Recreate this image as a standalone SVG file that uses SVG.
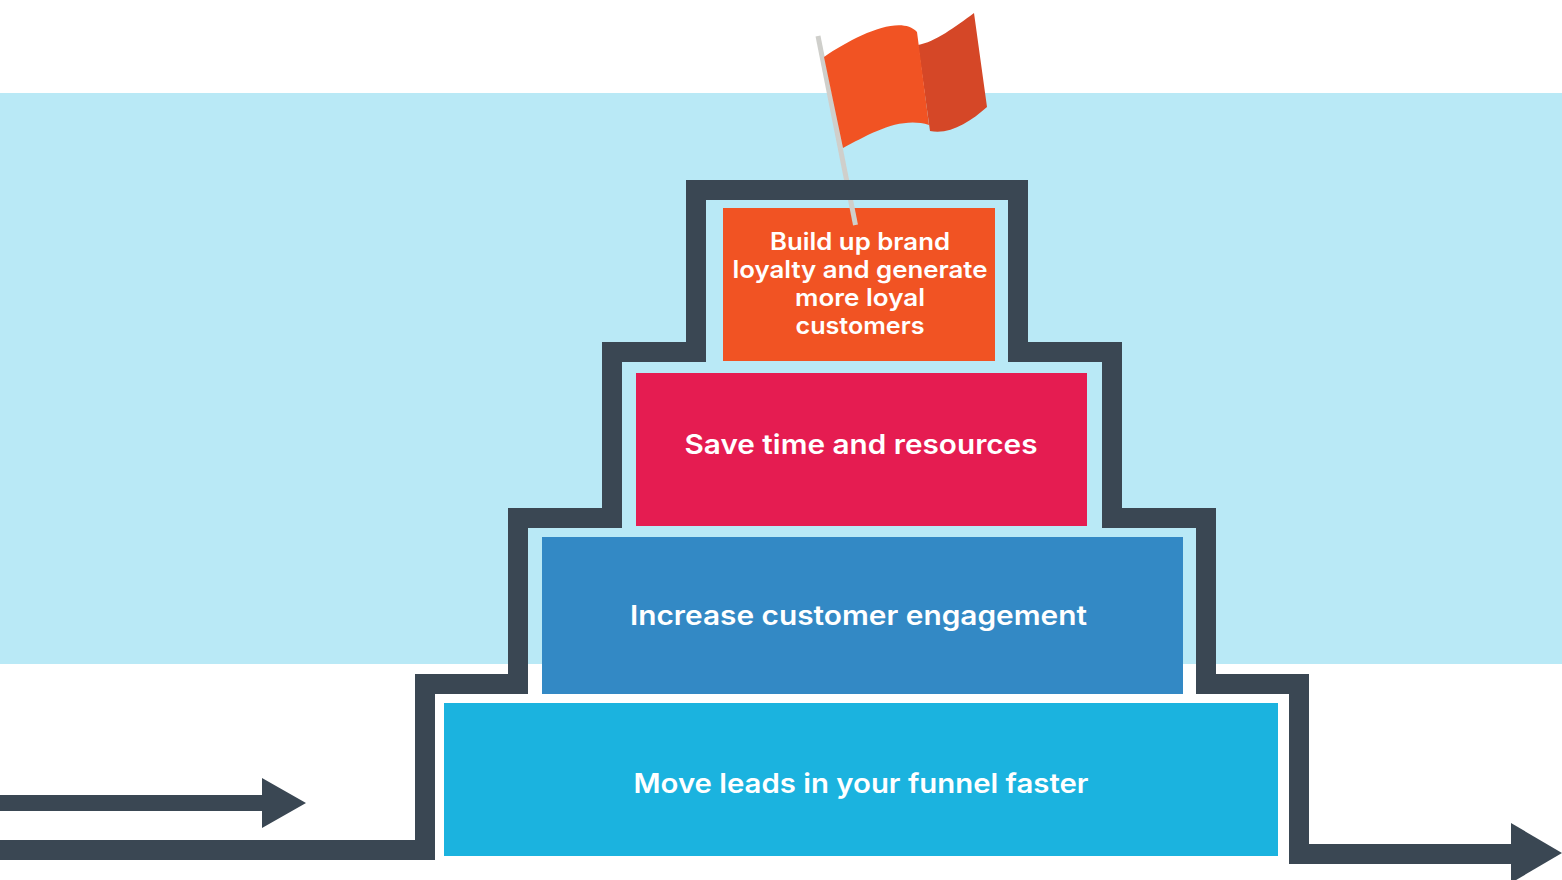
<svg xmlns="http://www.w3.org/2000/svg" width="1562" height="880" viewBox="0 0 1562 880">
<style>
.t{font-family:"Inter","Liberation Sans",sans-serif;font-weight:600;fill:#fff;text-anchor:middle}
.s{font-size:24px}
.b{font-size:27px}
.line{fill:none;stroke:#3a4753;stroke-width:20;stroke-linejoin:miter}
.arrow{fill:#3a4753}
</style>
<rect width="1562" height="880" fill="#fff"/>
<rect id="band" x="0" y="93" width="1562" height="571" fill="#b9e9f6"/>
<g id="step-1"><rect x="444" y="703" width="834" height="153" fill="#1bb3df"/><text class="t b" x="861" y="793" textLength="455" lengthAdjust="spacingAndGlyphs">Move leads in your funnel faster</text></g>
<g id="step-2"><rect x="542" y="537" width="641" height="157" fill="#3389c5"/><text class="t b" x="858.500" y="625" textLength="457" lengthAdjust="spacingAndGlyphs">Increase customer engagement</text></g>
<g id="step-3"><rect x="636" y="373" width="451" height="153" fill="#e51c51"/><text class="t b" x="861" y="454" textLength="353" lengthAdjust="spacingAndGlyphs">Save time and resources</text></g>
<g id="step-4"><rect x="723" y="208" width="272" height="153" fill="#f15323"/>
<text class="t s" x="860" y="250" textLength="180" lengthAdjust="spacingAndGlyphs">Build up brand</text>
<text class="t s" x="860" y="278" textLength="255" lengthAdjust="spacingAndGlyphs">loyalty and generate</text>
<text class="t s" x="860" y="306" textLength="130" lengthAdjust="spacingAndGlyphs">more loyal</text>
<text class="t s" x="860" y="334" textLength="129" lengthAdjust="spacingAndGlyphs">customers</text></g>
<g id="flag">
<line x1="818" y1="36" x2="855.500" y2="225" stroke="#cfcfcb" stroke-width="5"/>
<path d="M918 45C935 42 955 27 974 13L987 107C970 122 950 135 930 131Z" fill="#d54727"/>
<path d="M824 57C855 36 900 14 917 32L929 125C900 116 870 134 843 148Z" fill="#f15323"/>
</g>
<g id="connectors">
<path class="line" d="M0 850H425V684H518V518H612V352H696V190H1018V352H1112V518H1206V684H1299V854H1515"/>
<path class="arrow" d="M1511 823L1562 853L1511 883Z"/>
<path class="arrow" d="M0 795H262V778L306 803L262 828V811H0Z"/>
</g>
</svg>
